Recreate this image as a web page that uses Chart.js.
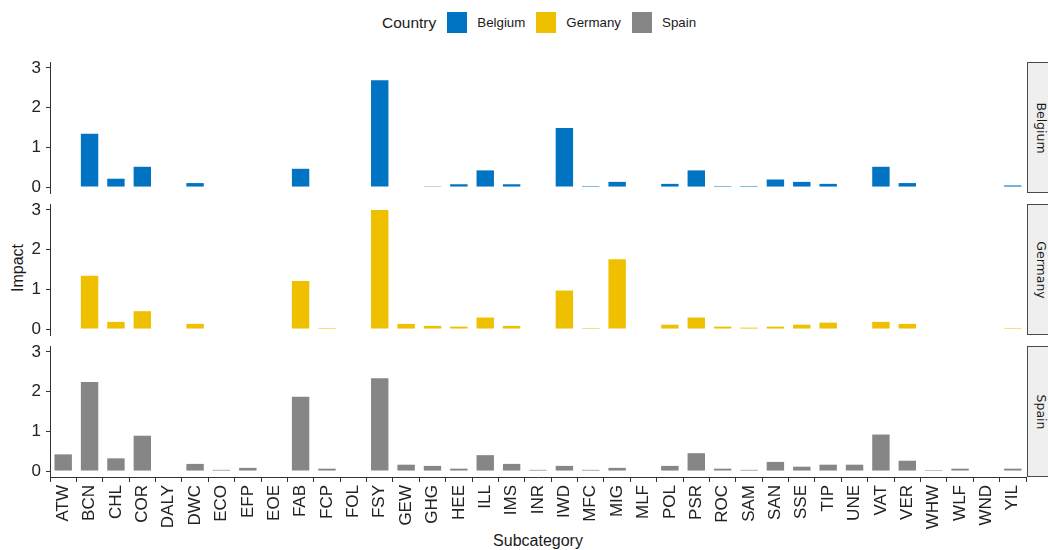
<!DOCTYPE html>
<html>
<head>
<meta charset="utf-8">
<title>Impact by subcategory and country</title>
<script src="https://cdn.jsdelivr.net/npm/chart.js@4.4.0/dist/chart.umd.min.js"></script>
<style>
  html, body { margin: 0; padding: 0; background: #ffffff; }
  body {
    width: 1048px; height: 550px; overflow: hidden; position: relative;
    font-family: "Liberation Sans", Arial, sans-serif; color: #222;
  }
  .panel { position: absolute; left: 0; width: 1048px; }
  .panel canvas { display: block; }
  .strip {
    position: absolute; left: 1027px; width: 27px;
    background: #efefef; border: 1px solid #4a4a4a; box-sizing: border-box;
  }
  .strip span {
    position: absolute; left: 50%; top: 50%;
    transform: translate(-50%, -50%) rotate(90deg);
    font-size: 12.5px; white-space: nowrap; color: #1a1a1a;
    font-family: "DejaVu Sans", "Noto Sans", sans-serif;
  }
  #legend {
    position: absolute; top: 12px; left: 382px; height: 21px;
    display: flex; align-items: center; white-space: nowrap;
  }
  #legend .title { font-size: 15.5px; margin-right: 11px; color: #1a1a1a; }
  #legend .key { width: 20px; height: 21px; margin-right: 10px; }
  #legend .label { font-size: 13.3px; margin-right: 11px; color: #1a1a1a; }
  #ytitle {
    position: absolute; left: 18px; top: 268px;
    transform: translate(-50%, -50%) rotate(-90deg);
    font-size: 16px; white-space: nowrap; color: #1a1a1a;
  }
  #xtitle {
    position: absolute; left: 538px; top: 532px;
    transform: translateX(-50%);
    font-size: 16px; white-space: nowrap; color: #1a1a1a;
  }
</style>
</head>
<body>
<div id="legend"></div>
<div id="ytitle">Impact</div>
<div id="xtitle">Subcategory</div>

<script>
// Subcategory codes along the shared x axis
const subcategories = [
  'ATW','BCN','CHL','COR','DALY','DWC','ECO','EFP','EOE','FAB','FCP','FOL',
  'FSY','GEW','GHG','HEE','ILL','IMS','INR','IWD','MFC','MIG','MLF','POL',
  'PSR','ROC','SAM','SAN','SSE','TIP','UNE','VAT','VER','WHW','WLF','WND','YIL'
];

const countries = ['Belgium', 'Germany', 'Spain'];
const countryColors = ['#0073C2', '#EFC000', '#868686'];

// Impact per subcategory (null = no value reported)
const belgium = [
  null, 1.34, 0.21, 0.51, null, 0.10, null, null, null, 0.46, null, null,
  2.69, null, 0.02, 0.07, 0.42, 0.07, null, 1.49, 0.025, 0.13, null, 0.08,
  0.42, 0.025, 0.025, 0.19, 0.13, 0.08, null, 0.51, 0.10, null, null, null, 0.04
];
const germany = [
  null, 1.34, 0.18, 0.45, null, 0.13, null, null, null, 1.21, 0.025, null,
  3.00, 0.13, 0.08, 0.06, 0.29, 0.08, null, 0.97, 0.025, 1.76, null, 0.11,
  0.29, 0.06, 0.035, 0.06, 0.11, 0.16, null, 0.18, 0.13, null, null, null, 0.025
];
const spain = [
  0.42, 2.24, 0.32, 0.89, null, 0.18, 0.03, 0.08, null, 1.87, 0.06, null,
  2.34, 0.16, 0.13, 0.06, 0.40, 0.18, 0.03, 0.13, 0.03, 0.08, null, 0.13,
  0.45, 0.06, 0.03, 0.23, 0.11, 0.16, 0.16, 0.92, 0.26, 0.025, 0.06, null, 0.06
];
const seriesValues = [belgium, germany, spain];

// Y tick values shown on every panel
const yTicks = [0, 1, 2, 3];

// Shared y range: 5% padding around the largest value (fixed facet scale)
const allValues = seriesValues.flat().filter(v => v !== null);
const dataMax = Math.max(...allValues);
const yMin = -0.05 * dataMax;
const yMax = 1.05 * dataMax;

const FONT = '"Liberation Sans", Arial, sans-serif';
const AXIS_COLOR = '#333333';
const TEXT_COLOR = '#222222';

// Panel geometry (plot area top in page pixels, common height)
const panelTops = [62, 204, 346];
const panelHeight = 131;
const PAD = 16;          // room for the half-height of the outer y tick labels
const AXIS_LEFT = 50;
const RIGHT_PAD = 22;

// Legend
const legend = document.getElementById('legend');
const lt = document.createElement('span');
lt.className = 'title';
lt.textContent = 'Country';
legend.appendChild(lt);
countries.forEach((c, i) => {
  const k = document.createElement('span');
  k.className = 'key';
  k.style.background = countryColors[i];
  legend.appendChild(k);
  const l = document.createElement('span');
  l.className = 'label';
  l.textContent = c;
  legend.appendChild(l);
});

countries.forEach((country, i) => {
  const isBottom = i === countries.length - 1;
  const top = panelTops[i] - PAD;
  const height = isBottom ? 550 - top : panelHeight + 2 * PAD;
  const xAxisHeight = isBottom ? 550 - (panelTops[i] + panelHeight) : 0;

  const wrap = document.createElement('div');
  wrap.className = 'panel';
  wrap.style.top = top + 'px';
  wrap.style.height = height + 'px';
  const canvas = document.createElement('canvas');
  canvas.width = 1048;
  canvas.height = height;
  canvas.style.width = '1048px';
  canvas.style.height = height + 'px';
  wrap.appendChild(canvas);
  document.body.appendChild(wrap);

  // facet strip on the right
  const strip = document.createElement('div');
  strip.className = 'strip';
  strip.style.top = panelTops[i] + 'px';
  strip.style.height = panelHeight + 'px';
  const st = document.createElement('span');
  st.textContent = country;
  strip.appendChild(st);
  document.body.appendChild(strip);

  new Chart(canvas, {
    type: 'bar',
    data: {
      labels: subcategories,
      datasets: [{
        label: country,
        data: seriesValues[i],
        backgroundColor: countryColors[i],
        borderWidth: 0,
        barPercentage: 0.66,
        categoryPercentage: 1.0
      }]
    },
    options: {
      responsive: false,
      animation: false,
      events: [],
      layout: {
        padding: { top: PAD, bottom: isBottom ? 0 : PAD, left: 0, right: RIGHT_PAD }
      },
      plugins: {
        legend: { display: false },
        tooltip: { enabled: false },
        title: { display: false }
      },
      scales: {
        x: {
          display: isBottom,
          offset: true,
          grid: {
            drawOnChartArea: false,
            drawTicks: true,
            tickLength: 5,
            color: AXIS_COLOR,
            tickColor: AXIS_COLOR
          },
          border: { display: true, color: AXIS_COLOR, width: 1 },
          ticks: {
            autoSkip: false,
            minRotation: 90,
            maxRotation: 90,
            padding: 3,
            color: TEXT_COLOR,
            font: { family: FONT, size: 17 }
          },
          afterFit: s => { s.height = xAxisHeight; }
        },
        y: {
          min: yMin,
          max: yMax,
          afterFit: s => { s.width = AXIS_LEFT; },
          afterBuildTicks: s => { s.ticks = yTicks.map(v => ({ value: v })); },
          grid: {
            drawOnChartArea: false,
            drawTicks: true,
            tickLength: 4,
            color: AXIS_COLOR,
            tickColor: AXIS_COLOR
          },
          border: { display: true, color: AXIS_COLOR, width: 1 },
          ticks: {
            padding: 5,
            color: TEXT_COLOR,
            font: { family: FONT, size: 17 }
          }
        }
      }
    }
  });
});
</script>
</body>
</html>
